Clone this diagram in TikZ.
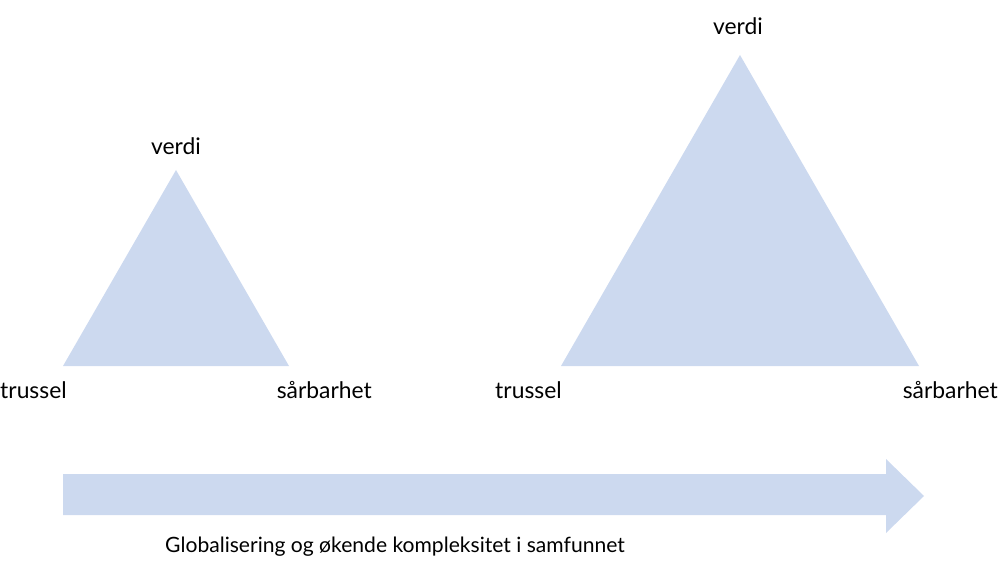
\documentclass[tikz,border=0pt]{standalone}
\usepackage{fontspec}
\setmainfont{Lato}
\definecolor{paleblue}{RGB}{204,217,239}

\begin{document}
\begin{tikzpicture}[x=0.3mm, y=-0.3mm,
  shape fill/.style={fill=paleblue, draw=none},
  label text/.style={inner sep=0pt, font=\fontsize{19.5}{22}\selectfont},
  caption text/.style={inner sep=0pt, font=\fontsize{18}{21}\selectfont}]
  \useasboundingbox (0,0) rectangle (1000,574);
  % small triangle
  \coordinate (s1) at (63,366);
  \coordinate (s2) at (176,170);
  \coordinate (s3) at (289,366);
  \fill[shape fill] (s1) -- (s2) -- (s3) -- cycle;
  \node[label text, anchor=base] (sv) at (176,155) {verdi};
  \node[label text, anchor=base west] (st) at (0,398) {trussel};
  \node[label text, anchor=base east] (ss) at (372,398) {sårbarhet};
  % large triangle
  \coordinate (l1) at (561,366);
  \coordinate (l2) at (740,55);
  \coordinate (l3) at (919,366);
  \fill[shape fill] (l1) -- (l2) -- (l3) -- cycle;
  \node[label text, anchor=base] (lv) at (738,35) {verdi};
  \node[label text, anchor=base west] (lt) at (495,398) {trussel};
  \node[label text, anchor=base east] (ls) at (998,398) {sårbarhet};
  % arrow
  \fill[shape fill] (63,474) -- (886,474) -- (886,459) -- (924,496)
    -- (886,533) -- (886,515) -- (63,515) -- cycle;
  \node[caption text, anchor=base west] (ar) at (165,552)
    {Globalisering og økende kompleksitet i samfunnet};
\end{tikzpicture}
\end{document}
